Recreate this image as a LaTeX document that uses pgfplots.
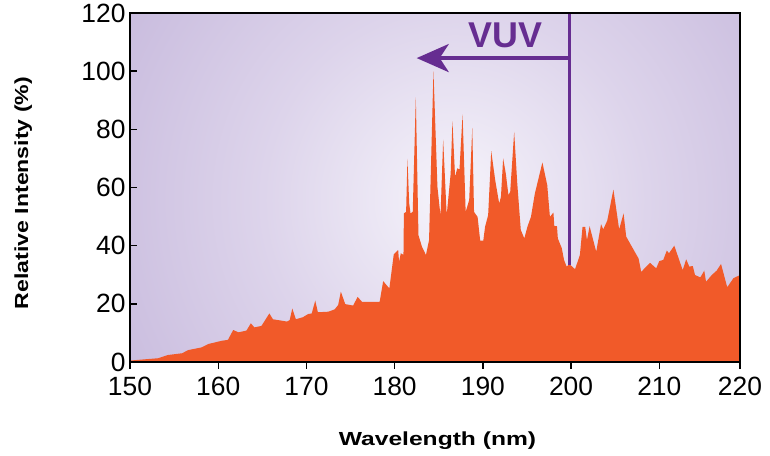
\documentclass[border=0pt]{standalone}
\usepackage{graphicx}
\usepackage{pgfplots}
\pgfplotsset{compat=1.18}
\usepackage{fontspec}
\setmainfont{Liberation Sans}
\usetikzlibrary{arrows.meta}
\definecolor{vorange}{RGB}{241,90,41}
\definecolor{vpurple}{RGB}{102,45,145}
\definecolor{bgin}{RGB}{246,244,251}
\definecolor{bgmid}{RGB}{221,212,235}
\definecolor{bgout}{RGB}{156,134,193}
\pgfdeclareradialshading{bgshade}{\pgfpoint{0bp}{0bp}}{color(0bp)=(bgin); color(12bp)=(bgmid); color(50bp)=(bgout)}
\begin{document}
\begin{tikzpicture}
\path[use as bounding box] (0,0) rectangle (770bp,456bp);
\begin{scope}
\clip (130bp,94bp) rectangle (740bp,443bp);
\shade[shading=bgshade] (455bp,256bp) circle (400bp);
\end{scope}
\begin{axis}[
  at={(130bp,94bp)}, anchor=south west,
  scale only axis, width=610bp, height=349bp,
  xmin=150, xmax=219.15, ymin=0, ymax=120,
  xtick={150,160,170,180,190,200,210,219.15},
  xticklabels={150,160,170,180,190,200,210,220},
  ytick={0,20,40,60,80,100,120},
  tick pos=left,
  xtick align=outside, ytick align=inside,
  major tick length=7bp,
  axis line style={line width=1.6bp, black},
  tick style={line width=1.4bp, black},
  tick label style={font=\fontsize{26.5}{26.5}\selectfont},
  x tick label style={yshift=-5bp},
  y tick label style={xshift=-1bp},
  /pgf/number format/assume math mode=true,
  axis on top,
]
\addplot[fill=vorange, draw=none] coordinates {
(150,0.5) (153.2,1.3) (154.3,2.4) (155.9,3.0) (156.6,4.1) (158.1,5.0) (158.9,6.2)
(160.4,7.3) (161.1,7.6) (161.7,11.0) (162.3,10.2) (163.2,10.8) (163.7,13.3) (164.1,11.9)
(164.9,12.4) (165.8,16.7) (166.2,14.7) (167.8,13.9) (168.1,14.4) (168.4,18.4) (168.8,14.7)
(169.6,15.4) (170.2,16.5) (170.6,16.7) (171.0,21.1) (171.3,17.1) (172.5,17.3) (173.2,18.1)
(173.6,19.6) (173.9,24.2) (174.4,19.9) (175.3,19.4) (175.8,22.4) (176.3,20.7) (178.3,20.7)
(178.7,27.8) (179.4,25.3) (179.9,37.0) (180.4,38.5) (180.5,34.5) (180.7,37.4) (181.0,36.8)
(181.05,51.1) (181.3,51.6) (181.45,69.8) (181.65,54.5) (181.8,51.1) (182.05,51.6) (182.4,91.0)
(182.7,43.6) (183.1,39.6) (183.55,36.8) (183.9,41.9) (184.4,100) (184.85,60.2) (185.2,50.2)
(185.5,76.5) (185.9,50.5) (186.35,64.8) (186.55,82.8) (186.85,63.7) (187.1,66.6) (187.35,66.2)
(187.7,85.1) (188.05,51.6) (188.45,55.7) (188.8,80.5) (189.0,51.6) (189.4,49.9) (189.7,41.7)
(190.05,41.7) (190.25,46.5) (190.6,50.5) (190.95,72.5) (191.4,62.5) (191.85,54.5) (192.05,56.8)
(192.3,70.0) (192.6,64.8) (192.9,57.4) (193.1,58.5) (193.55,79.1) (193.9,61.4) (194.3,45.4)
(194.7,42.5) (195.05,46.5) (195.45,49.9) (195.9,58.0) (196.75,68.6) (197.3,60.8) (197.6,49.9)
(198.0,51.4) (198.1,46.7) (198.4,46.7) (198.5,42.5) (198.95,39.1) (199.2,35.1) (199.5,32.8)
(199.8,33.7) (200.45,31.9) (201.0,36.8) (201.3,46.5) (201.6,46.5) (201.8,41.9) (202.1,46.7)
(202.85,37.9) (203.4,47.4) (203.65,45.6) (204.1,48.6) (204.8,59.3) (205.45,45.6) (205.95,51.1)
(206.25,43.1) (206.9,39.6) (207.65,35.6) (207.95,31.0) (208.95,34.1) (209.65,32.2) (210.0,34.7)
(210.45,35.1) (210.85,38.3) (211.1,37.4) (211.7,40.0) (212.65,31.6) (213.05,35.3) (213.4,32.8)
(213.8,33.0) (214.05,29.9) (214.65,29.1) (215.1,31.4) (215.3,27.6) (215.95,29.9) (216.5,31.4)
(217.0,33.7) (217.7,25.7) (218.4,28.8) (219.15,29.9)
} \closedcycle;
\draw[vpurple, line width=2.6bp] (axis cs:199.8,120) -- (axis cs:199.8,33.5);
\draw[vpurple, line width=4bp, -{Stealth[length=32bp,width=28bp,inset=9bp]}] (axis cs:199.8,104.5) -- (axis cs:182.5,104.5);
\node[vpurple, font=\bfseries\fontsize{36}{36}\selectfont, inner sep=0pt] at (axis cs:192.6,112.2) {VUV};
\end{axis}
\node[anchor=base, inner sep=0pt, font=\bfseries\fontsize{19}{19}\selectfont] at (437.5bp,11bp) {\scalebox{1.3}[1]{Wavelength (nm)}};
\node[anchor=base, rotate=90, inner sep=0pt, font=\bfseries\fontsize{19}{19}\selectfont] at (28bp,263bp) {\scalebox{1.22}[1]{Relative Intensity (\%)}};
\end{tikzpicture}
\end{document}
